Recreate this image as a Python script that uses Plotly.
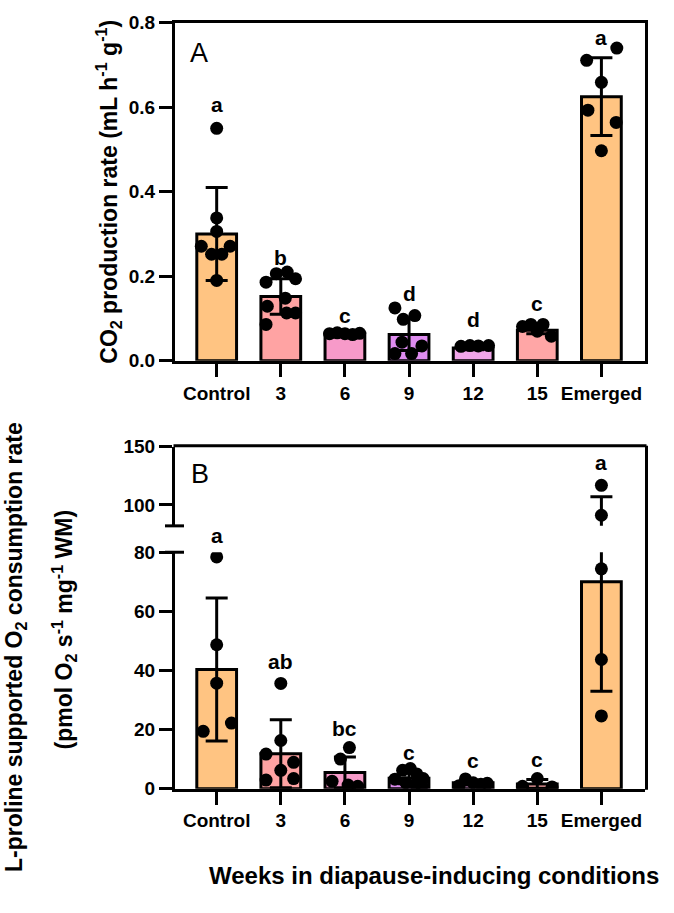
import plotly.graph_objects as go

# ---------------------------------------------------------------
# Data
# ---------------------------------------------------------------
categories = ["Control", "3", "6", "9", "12", "15", "Emerged"]
bar_colors = ["#FFC482", "#FFA3A3", "#F79AC9", "#DF8CF0", "#F2A6EA", "#FFA6A6", "#FFC482"]

# Panel A: CO2 production rate
co2_mean = [0.300, 0.152, 0.065, 0.062, 0.030, 0.072, 0.625]
co2_sd = [0.110, 0.042, 0.004, 0.038, 0.004, 0.008, 0.092]
co2_points = [
    [0.550, 0.338, 0.306, 0.271, 0.271, 0.252, 0.252, 0.190],
    [0.186, 0.206, 0.210, 0.194, 0.148, 0.129, 0.113, 0.113, 0.086],
    [0.064, 0.066, 0.064, 0.062, 0.065],
    [0.125, 0.098, 0.107, 0.044, 0.035, 0.017, 0.017],
    [0.034, 0.036, 0.035, 0.036],
    [0.081, 0.086, 0.086, 0.058, 0.070],
    [0.711, 0.740, 0.659, 0.593, 0.564, 0.497],
]
co2_jitter = [
    [0, 0, 0, -0.24, 0.21, -0.08, 0.08, 0],
    [-0.23, -0.07, 0.10, 0.23, 0.07, -0.21, 0.09, 0.23, -0.23],
    [-0.24, -0.12, 0.0, 0.12, 0.23],
    [-0.22, -0.09, 0.09, -0.11, 0.20, -0.22, 0.04],
    [-0.19, -0.05, 0.08, 0.24],
    [-0.23, -0.10, 0.09, 0.22, 0.0],
    [-0.23, 0.24, 0, -0.21, 0.23, 0],
]
co2_letters = ["a", "b", "c", "d", "d", "c", "a"]
co2_letter_y = [0.606, 0.244, 0.106, 0.160, 0.098, 0.136, 0.765]

# Panel B: L-proline supported O2 consumption
o2_mean = [40.3, 11.8, 5.5, 3.5, 2.0, 1.6, 70.0]
o2_sd = [24.2, 11.5, 5.2, 1.8, 0.8, 1.5, 37.0]
o2_points = [
    [78.4, 48.7, 35.7, 22.2, 19.4],
    [35.6, 16.3, 11.7, 8.9, 6.2, 2.9, 3.4],
    [13.9, 10.0, 2.5, 1.2, 0.8],
    [6.2, 6.8, 5.0, 3.4, 3.2, 2.0, 1.5, 1.0],
    [3.3, 2.0, 1.5, 1.0, 1.8],
    [3.4, 0.8, 0.6],
    [116.8, 91.1, 74.4, 43.7, 24.6],
]
o2_jitter = [
    [0, 0, 0, 0.23, -0.21],
    [0, 0, -0.23, 0.20, 0, -0.23, 0.20],
    [0.07, -0.07, -0.20, 0.05, 0.20],
    [-0.10, 0.02, 0.12, 0.22, -0.22, -0.05, 0.10, 0.20],
    [-0.12, 0.0, 0.12, -0.22, 0.22],
    [0, -0.23, 0.23],
    [0, 0, 0, 0, 0],
]
o2_letters = ["a", "ab", "bc", "c", "c", "c", "a"]
o2_letter_y = [85.8, 43.0, 20.5, 12.2, 9.5, 10.0, 136.5]

# broken y axis of panel B: lower and upper segments
o2_low_range = [0, 80]
o2_high_range = [82, 150]

# ---------------------------------------------------------------
# Layout helpers (pixel positions of the original figure)
# ---------------------------------------------------------------
W, H = 674, 913
FONT = "Liberation Sans, Arial, sans-serif"


def px_x(px):
    return px / W


def px_y(py):
    return 1 - py / H


x_dom = [px_x(175), px_x(645)]
x_rng = [-0.65, 6.68]
x_idx = list(range(len(categories)))
a_dom = [px_y(359), px_y(13)]
b_low_dom = [px_y(797), px_y(555)]
b_high_dom = [px_y(528), px_y(447)]


def flat_points(points, jitter, keep=lambda v: True):
    xs, ys = [], []
    for i, (pts, jit) in enumerate(zip(points, jitter)):
        for p, j in zip(pts, jit):
            if keep(p):
                xs.append(i + j)
                ys.append(p)
    return xs, ys


def bar_trace(means, sds, xa, ya):
    return go.Bar(
        x=x_idx, y=means, width=0.62, xaxis=xa, yaxis=ya,
        marker=dict(color=bar_colors, line=dict(color="black", width=3)),
        error_y=dict(type="data", array=sds, visible=True, color="black", thickness=3, width=11),
        hoverinfo="skip",
    )


def point_trace(points, jitter, xa, ya, keep=lambda v: True):
    xs, ys = flat_points(points, jitter, keep)
    return go.Scatter(
        x=xs, y=ys, mode="markers", xaxis=xa, yaxis=ya,
        marker=dict(color="black", size=13),
        hoverinfo="skip",
    )


fig = go.Figure()
# Panel A
fig.add_trace(bar_trace(co2_mean, co2_sd, "x", "y"))
fig.add_trace(point_trace(co2_points, co2_jitter, "x", "y"))
# Panel B lower and upper segments (broken axis)
fig.add_trace(bar_trace(o2_mean, o2_sd, "x2", "y2"))
fig.add_trace(point_trace(o2_points, o2_jitter, "x2", "y2", lambda v: v <= o2_low_range[1] + 2))
fig.add_trace(bar_trace(o2_mean, o2_sd, "x2", "y3"))
fig.add_trace(point_trace(o2_points, o2_jitter, "x2", "y3", lambda v: v >= o2_high_range[0]))

tick_font = dict(family=FONT, size=19, color="black", weight="bold")
axis_common = dict(
    showline=True, linecolor="black", linewidth=3, ticks="outside", ticklen=13,
    tickwidth=3, tickcolor="black", showgrid=False, zeroline=False, tickfont=tick_font,
    fixedrange=True,
)

fig.update_layout(
    width=W, height=H, margin=dict(l=0, r=0, t=0, b=0),
    paper_bgcolor="white", plot_bgcolor="white", showlegend=False,
    xaxis=dict(domain=x_dom, range=x_rng, anchor="y", mirror=True,
               tickvals=x_idx, ticktext=categories, **axis_common),
    yaxis=dict(domain=a_dom, range=[0, 0.8], anchor="x", mirror=True,
               tickvals=[0, 0.2, 0.4, 0.6, 0.8], tickformat=".1f", **axis_common),
    xaxis2=dict(domain=x_dom, range=x_rng, anchor="y2",
                tickvals=x_idx, ticktext=categories, **axis_common),
    yaxis2=dict(domain=b_low_dom, range=o2_low_range, anchor="x2",
                tickvals=[0, 20, 40, 60, 80], **axis_common),
    yaxis3=dict(domain=b_high_dom, range=o2_high_range, anchor="x2",
                tickvals=[100, 150], **axis_common),
)

# Box lines and break caps of panel B
line = dict(color="black", width=3)
fig.add_shape(type="line", xref="paper", yref="paper", x0=px_x(173.5), x1=px_x(646.5),
              y0=px_y(446), y1=px_y(446), line=line)
fig.add_shape(type="line", xref="paper", yref="paper", x0=px_x(646.5), x1=px_x(646.5),
              y0=px_y(446), y1=px_y(798), line=line)
for cap_y in (b_low_dom[1], b_high_dom[0]):
    fig.add_shape(type="line", xref="paper", yref="paper", x0=px_x(165), x1=px_x(184),
                  y0=cap_y, y1=cap_y, line=line)


def seg_to_paper(v, dom, rng):
    return dom[0] + (v - rng[0]) / (rng[1] - rng[0]) * (dom[1] - dom[0])


letter_font = dict(family=FONT, size=21, color="black", weight="bold")
for i, (t, yv) in enumerate(zip(co2_letters, co2_letter_y)):
    fig.add_annotation(x=i, y=yv, xref="x", yref="y", text=t, showarrow=False,
                       xanchor="center", yanchor="middle", font=letter_font)
for i, (t, yv) in enumerate(zip(o2_letters, o2_letter_y)):
    if yv > 90:
        yp = seg_to_paper(yv, b_high_dom, o2_high_range)
    else:
        yp = seg_to_paper(yv, b_low_dom, o2_low_range)
    fig.add_annotation(x=i, y=yp, xref="x2", yref="paper", text=t, showarrow=False,
                       xanchor="center", yanchor="middle", font=letter_font)

# Panel letters
panel_font = dict(family=FONT, size=27, color="black")
fig.add_annotation(x=px_x(199), y=px_y(44), xref="paper", yref="paper", text="A",
                   showarrow=False, xanchor="center", yanchor="middle", font=panel_font)
fig.add_annotation(x=px_x(200), y=px_y(475), xref="paper", yref="paper", text="B",
                   showarrow=False, xanchor="center", yanchor="middle", font=panel_font)

# Axis titles
title_font = dict(family=FONT, size=23, color="black", weight="bold")
fig.add_annotation(x=px_x(108), y=px_y(186), xref="paper", yref="paper", textangle=-90,
                   text="CO<sub>2</sub> production rate (mL h<sup>-1</sup> g<sup>-1</sup>)",
                   showarrow=False, xanchor="center", yanchor="middle", font=title_font)
fig.add_annotation(x=px_x(15), y=px_y(652), xref="paper", yref="paper", textangle=-90,
                   text="L-proline supported O<sub>2</sub> consumption rate",
                   showarrow=False, xanchor="center", yanchor="middle", font=title_font)
fig.add_annotation(x=px_x(64), y=px_y(635), xref="paper", yref="paper", textangle=-90,
                   text="(pmol O<sub>2</sub> s<sup>-1</sup> mg<sup>-1</sup> WM)",
                   showarrow=False, xanchor="center", yanchor="middle", font=title_font)
fig.add_annotation(x=px_x(434), y=px_y(886), xref="paper", yref="paper",
                   text="Weeks in diapause-inducing conditions", showarrow=False,
                   xanchor="center", yanchor="middle",
                   font=dict(family=FONT, size=24, color="black", weight="bold"))

# remove the default page margin so the figure sits at the window origin
fig.write_html("out.html", config={"displayModeBar": False},
               post_script="document.body.style.margin='0';")
